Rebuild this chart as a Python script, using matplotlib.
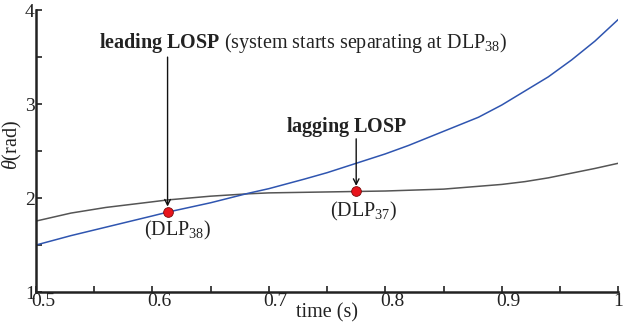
import matplotlib
matplotlib.use("Agg")
import matplotlib.pyplot as plt
import matplotlib.transforms as mtransforms
from matplotlib.ticker import MultipleLocator

# rotor angle trajectories (rad) over time (s)
t_lead = [0.50, 0.53, 0.56, 0.60, 0.613, 0.65, 0.682, 0.70, 0.73, 0.75, 0.775,
          0.80, 0.82, 0.84, 0.86, 0.88, 0.90, 0.92, 0.94, 0.96, 0.98, 1.00]
theta_lead = [1.50, 1.60, 1.69, 1.81, 1.85, 1.95, 2.05, 2.10, 2.20, 2.27, 2.37,
              2.47, 2.56, 2.66, 2.76, 2.86, 2.99, 3.14, 3.29, 3.47, 3.67, 3.90]

t_lag = [0.50, 0.53, 0.56, 0.60, 0.613, 0.65, 0.682, 0.70, 0.75, 0.775, 0.80,
         0.85, 0.875, 0.90, 0.92, 0.94, 0.96, 0.98, 1.00]
theta_lag = [1.755, 1.84, 1.90, 1.96, 1.98, 2.02, 2.045, 2.055, 2.065, 2.07, 2.075,
             2.095, 2.12, 2.145, 2.175, 2.215, 2.265, 2.315, 2.37]

# loss-of-synchronism points
losp_t = [0.613, 0.775]
losp_theta = [1.85, 2.07]
losp_names = ["(DLP$_{38}$)", "(DLP$_{37}$)"]

plt.rcParams["font.family"] = ["Liberation Serif", "DejaVu Serif"]
plt.rcParams["mathtext.fontset"] = "custom"
plt.rcParams["mathtext.rm"] = "Liberation Serif"
plt.rcParams["mathtext.it"] = "Liberation Serif:italic"
plt.rcParams["mathtext.bf"] = "Liberation Serif:bold"

txt_color = "#222222"

fig = plt.figure(figsize=(6.26, 3.27), dpi=100)
ax = fig.add_axes([0.0575, 0.107, 0.93, 0.862])

ax.plot(t_lag, theta_lag, color="#555555", lw=1.1)
ax.plot(t_lead, theta_lead, color="#2f55b0", lw=1.1)
ax.plot(losp_t, losp_theta, "o", color="#e8141c", mec="#7a0a0a", mew=0.6,
        ms=7, zorder=5)

ax.set_xlim(0.5, 1.0)
ax.set_ylim(1, 4)
ax.xaxis.set_major_locator(MultipleLocator(0.1))
ax.xaxis.set_minor_locator(MultipleLocator(0.05))
ax.yaxis.set_major_locator(MultipleLocator(1))
ax.yaxis.set_minor_locator(MultipleLocator(0.5))
ax.xaxis.set_major_formatter(plt.FuncFormatter(lambda v, p: f"{v:g}"))
ax.tick_params(which="both", direction="in", length=4, width=1.2,
               labelsize=14, pad=1, colors=txt_color)
for side in ("top", "right"):
    ax.spines[side].set_visible(False)
for side in ("left", "bottom"):
    ax.spines[side].set_linewidth(1.8)
    ax.spines[side].set_color(txt_color)

# x tick labels sit a little right of their ticks (the last one stays inside)
fig.canvas.draw()
for lbl in ax.get_xticklabels():
    dx = 0 if lbl.get_text() == "1" else 7
    lbl.set_transform(lbl.get_transform()
                      + mtransforms.ScaledTranslation(dx / 100, 0, fig.dpi_scale_trans))

ax.set_xlabel("time (s)", fontsize=14.5, labelpad=-5, color=txt_color)
ax.set_ylabel(r"$\theta$(rad)", fontsize=14.5, color=txt_color)
ax.yaxis.set_label_coords(-0.02, 0.52)

arrow = dict(arrowstyle="->", color="#111111", lw=1.0, shrinkA=0, shrinkB=4)
ax.annotate("", xy=(losp_t[0], losp_theta[0]), xytext=(losp_t[0], 3.5),
            arrowprops=arrow)
ax.annotate("", xy=(losp_t[1], losp_theta[1]), xytext=(losp_t[1], 2.63),
            arrowprops=arrow)

ax.text(0.554, 3.65, r"$\mathbf{leading\ LOSP}$ (system starts separating at DLP$_{38}$)",
        fontsize=14.5, ha="left", va="center", color=txt_color)
ax.text(0.767, 2.755, r"$\mathbf{lagging\ LOSP}$", fontsize=14.5,
        ha="center", va="center", color=txt_color)

ax.text(0.622, 1.66, losp_names[0], fontsize=14.5,
        ha="center", va="center", color=txt_color)
ax.text(0.781, 1.86, losp_names[1], fontsize=14.5,
        ha="center", va="center", color=txt_color)

fig.savefig("out.png", dpi=100)
